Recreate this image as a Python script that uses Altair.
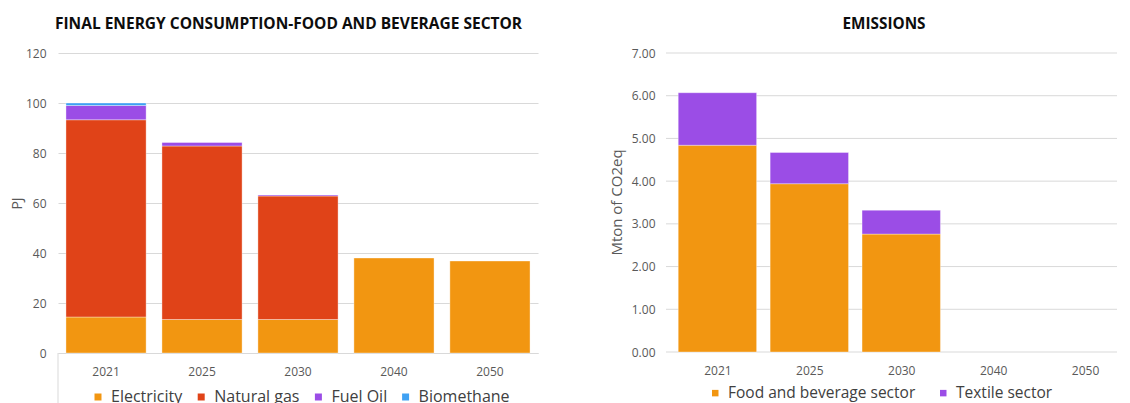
import altair as alt
import pandas as pd

FONT = "Open Sans"

years = ["2021", "2025", "2030", "2040", "2050"]

fuels = ["Electricity", "Natural gas", "Fuel Oil", "Biomethane"]
electricity = [14.4, 13.4, 13.4, 38.0, 36.8]
natural_gas = [78.9, 69.4, 49.4, 0.0, 0.0]
fuel_oil = [5.7, 1.4, 0.4, 0.0, 0.0]
biomethane = [1.0, 0.0, 0.0, 0.0, 0.0]
fuel_colors = ["#F29611", "#E04318", "#9B4DE6", "#3FA1F3"]

sectors = ["Food and beverage sector", "Textile sector"]
food_beverage = [4.84, 3.94, 2.76, 0.0, 0.0]
textile = [1.23, 0.73, 0.56, 0.0, 0.0]
sector_colors = ["#F29611", "#9B4DE6"]

energy_ticks = [0, 20, 40, 60, 80, 100, 120]
emission_ticks = [0, 1, 2, 3, 4, 5, 6, 7]

left_title = "FINAL ENERGY CONSUMPTION-FOOD AND BEVERAGE SECTOR"
right_title = "EMISSIONS"

rows1 = []
for i, (name, vals) in enumerate(zip(fuels, [electricity, natural_gas, fuel_oil, biomethane])):
    for y, v in zip(years, vals):
        rows1.append({"year": y, "fuel": name, "value": v, "idx": i})
df1 = pd.DataFrame(rows1)

rows2 = []
for i, (name, vals) in enumerate(zip(sectors, [food_beverage, textile])):
    for k, (y, v) in enumerate(zip(years, vals)):
        rows2.append({"year": y, "pos": k, "sector": name, "value": v, "idx": i})
df2 = pd.DataFrame(rows2)

grid2 = pd.DataFrame({"value": emission_ticks})

GRID = "#D9D9D9"
LABEL = "#595959"


# ---- left chart ----
left_bars = alt.Chart(df1).transform_filter("datum.value > 0").mark_bar(
    stroke="white", strokeWidth=0.6, strokeOpacity=0.6
).encode(
    x=alt.X("year:N", sort=years, scale=alt.Scale(domain=years, paddingInner=0.165, paddingOuter=0.083),
            axis=alt.Axis(title=None, labelAngle=0, labelFontSize=12, labelColor=LABEL,
                          labelPadding=13, ticks=False, domain=True, domainColor=GRID, domainWidth=1,
                          grid=False, labelFont=FONT)),
    y=alt.Y("value:Q", stack="zero", scale=alt.Scale(domain=[0, 120], nice=False),
            axis=alt.Axis(values=energy_ticks, title="PJ", grid=True, gridColor=GRID, domain=False,
                          ticks=False, labelPadding=12, labelFontSize=12, labelColor=LABEL,
                          labelFont=FONT, titleFont=FONT, titleFontSize=14, titleFontWeight="normal",
                          titleColor=LABEL, titleX=-41, titleY=150, titleBaseline="middle",
                          titleAlign="center", titleAngle=270)),
    color=alt.Color("fuel:N", scale=alt.Scale(domain=fuels, range=fuel_colors),
                    legend=alt.Legend(title=None, orient="none", legendX=32, legendY=336,
                                      direction="horizontal", symbolType="square", symbolSize=49,
                                      symbolStrokeWidth=0, labelFontSize=16, labelFont=FONT,
                                      labelColor="#404040", columnPadding=10.2, labelOffset=5,
                                      labelLimit=0, padding=0)),
    order=alt.Order("idx:Q", sort="ascending"),
)

left_rule = alt.Chart(pd.DataFrame({"a": [0]})).mark_rule(color=GRID, strokeWidth=1).encode(
    x=alt.value(0), y=alt.value(300), y2=alt.value(350)
)

left = alt.layer(left_bars, left_rule).properties(
    width=480, height=300,
    title=alt.TitleParams(left_title, font=FONT, fontSize=15.5, fontWeight="bold", color="#0D0D0D",
                          anchor="middle", frame="group", dx=-9.5, offset=15),
)

# ---- right chart ----
RIGHT_W = 451
y2_scale = alt.Scale(domain=[0, 7], nice=False)
y2_axis = alt.Axis(values=emission_ticks, format=".2f", title="Mton of CO2eq", grid=False,
                   domain=False, ticks=False, labelPadding=11,
                   labelFontSize=12, labelColor=LABEL, labelFont=FONT, titleFont=FONT,
                   titleFontSize=15, titleFontWeight="normal", titleColor=LABEL,
                   titleX=-50, titleY=149, titleBaseline="middle", titleAlign="center",
                   titleAngle=270)
x2_scale = alt.Scale(domain=[-0.505, 4.293], nice=False, zero=False)
x2_axis = alt.Axis(title=None, values=list(range(len(years))),
                   labelExpr=f"{years}[datum.value]", labelAngle=0, labelFontSize=12,
                   labelColor=LABEL, labelPadding=13, ticks=False, domain=False, grid=False,
                   labelFont=FONT, labelFlush=False, labelOverlap=False)

right_grid = alt.Chart(grid2).mark_rule(color=GRID, strokeWidth=1).encode(
    y=alt.Y("value:Q", scale=y2_scale, axis=y2_axis),
    x=alt.value(0), x2=alt.value(RIGHT_W),
)

right_bars = alt.Chart(df2).transform_filter("datum.value > 0").mark_bar(
    stroke="white", strokeWidth=0.6, strokeOpacity=0.6, width=78.4, orient="vertical"
).encode(
    x=alt.X("pos:Q", scale=x2_scale, axis=x2_axis),
    y=alt.Y("value:Q", stack="zero", scale=y2_scale, axis=y2_axis),
    color=alt.Color("sector:N", scale=alt.Scale(domain=sectors, range=sector_colors),
                    legend=alt.Legend(title=None, orient="none", legendX=41.5, legendY=332,
                                      direction="horizontal", symbolType="square", symbolSize=42,
                                      symbolStrokeWidth=0, labelFontSize=15.5, labelFont=FONT,
                                      labelColor="#404040", columnPadding=20, labelOffset=5,
                                      labelLimit=0, padding=0)),
    order=alt.Order("idx:Q", sort="ascending"),
    tooltip=["year:N", "sector:N", "value:Q"],
)

right = alt.layer(right_grid, right_bars).properties(
    width=RIGHT_W, height=299,
    title=alt.TitleParams(right_title, font=FONT, fontSize=15.3, fontWeight="bold", color="#0D0D0D",
                          anchor="middle", frame="group", dx=-7.5, offset=15),
)

chart = alt.hconcat(left, right, spacing=71).resolve_scale(
    color="independent", x="independent", y="independent"
).resolve_legend(color="independent").properties(
    padding={"left": 2, "top": 8, "right": 0, "bottom": 0},
    background="white",
).configure_view(stroke=None)

chart.save("out.html", embed_options={"renderer": "svg", "actions": False})
